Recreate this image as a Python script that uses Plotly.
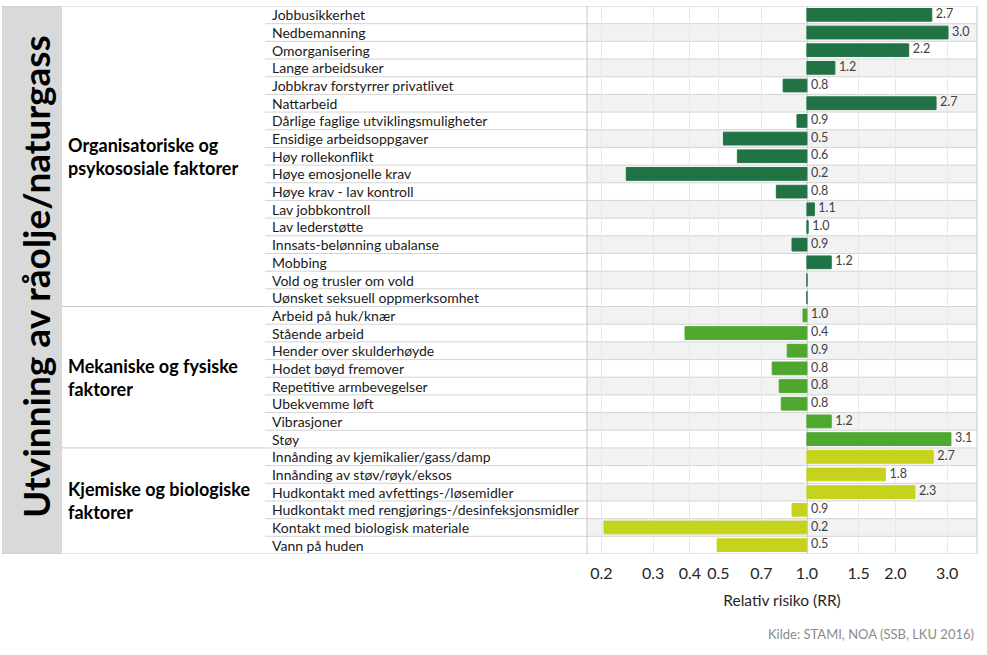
import math
import plotly.graph_objects as go

# ---------------- data ----------------
title_text = "Utvinning av råolje/naturgass"
groups = ["Organisatoriske og<br>psykososiale faktorer",
          "Mekaniske og fysiske<br>faktorer",
          "Kjemiske og biologiske<br>faktorer"]
group_sizes = [17, 8, 6]
group_colors = ["#217346", "#4ea72e", "#c6d31c"]

categories = [
    "Jobbusikkerhet", "Nedbemanning", "Omorganisering", "Lange arbeidsuker",
    "Jobbkrav forstyrrer privatlivet", "Nattarbeid",
    "Dårlige faglige utviklingsmuligheter", "Ensidige arbeidsoppgaver",
    "Høy rollekonflikt", "Høye emosjonelle krav", "Høye krav - lav kontroll",
    "Lav jobbkontroll", "Lav lederstøtte", "Innsats-belønning ubalanse",
    "Mobbing", "Vold og trusler om vold", "Uønsket seksuell oppmerksomhet",
    "Arbeid på huk/knær", "Stående arbeid", "Hender over skulderhøyde",
    "Hodet bøyd fremover", "Repetitive armbevegelser", "Ubekvemme løft",
    "Vibrasjoner", "Støy",
    "Innånding av kjemikalier/gass/damp", "Innånding av støv/røyk/eksos",
    "Hudkontakt med avfettings-/løsemidler",
    "Hudkontakt med rengjørings-/desinfeksjonsmidler",
    "Kontakt med biologisk materiale", "Vann på huden",
]
rr_values = [
    2.66, 3.02, 2.22, 1.245, 0.83, 2.75, 0.925, 0.52, 0.58, 0.243, 0.787,
    1.06, 1.01, 0.89, 1.21, 1.0, 1.0,
    0.97, 0.385, 0.857, 0.762, 0.805, 0.818, 1.21, 3.09,
    2.69, 1.85, 2.33, 0.89, 0.204, 0.495,
]
rr_labels = [
    "2.7", "3.0", "2.2", "1.2", "0.8", "2.7", "0.9", "0.5", "0.6", "0.2", "0.8",
    "1.1", "1.0", "0.9", "1.2", "", "",
    "1.0", "0.4", "0.9", "0.8", "0.8", "0.8", "1.2", "3.1",
    "2.7", "1.8", "2.3", "0.9", "0.2", "0.5",
]
tick_vals = [0.2, 0.3, 0.4, 0.5, 0.7, 1.0, 1.5, 2.0, 3.0]
tick_text = ["0.2", "0.3", "0.4", "0.5", "0.7", "1.0", "1.5", "2.0", "3.0"]
x_min, x_max = 0.1786, 3.79
ref_value = 1.0
source_text = "Kilde: STAMI, NOA (SSB, LKU 2016)"

# ---------------- layout geometry ----------------
W, H = 987, 655
PL, PR, PT, PB = 587, 977, 6, 554   # plot area in window pixels
n = len(categories)
idx = list(range(n))

def px(x):
    return x / W

def py(y):
    return 1 - y / H

bar_colors = []
for size, col in zip(group_sizes, group_colors):
    bar_colors += [col] * size

FONT = "Lato, Open Sans, sans-serif"
label_gap = 10 ** (4 / 294)   # ~4 px gap on the log scale
lo, hi = math.log10(x_min), math.log10(x_max)
ref_frac = (math.log10(ref_value) - lo) / (hi - lo)

fig = go.Figure()
fig.add_trace(go.Bar(
    y=idx, x=[v - ref_value for v in rr_values], base=[ref_value] * n,
    orientation="h", width=0.72,
    marker=dict(color=bar_colors, line=dict(color=bar_colors, width=1)),
    hoverinfo="skip", showlegend=False,
))
fig.add_trace(go.Scatter(
    y=idx, x=[max(v, ref_value) * label_gap for v in rr_values], mode="text",
    text=rr_labels, textposition="middle right",
    textfont=dict(family=FONT, size=12.5, color="#404040"),
    hoverinfo="skip", showlegend=False,
))

shapes = []
shapes.append(dict(type="rect", xref="paper", yref="y", x0=px(2), x1=px(62),
                   y0=-0.5, y1=n - 0.5, fillcolor="#d9d9d9", line_width=0, layer="below"))
for i in idx:
    if i % 2 == 1:
        shapes.append(dict(type="rect", xref="x domain", yref="y", x0=0, x1=1,
                           y0=i - 0.5, y1=i + 0.5, fillcolor="#f2f2f2",
                           line_width=0, layer="below"))
for i in range(1, n):
    shapes.append(dict(type="line", xref="paper", yref="y", x0=px(265), x1=px(PR),
                       y0=i - 0.5, y1=i - 0.5, line=dict(color="#d4d4d4", width=1),
                       layer="below"))
acc = 0
for size in group_sizes[:-1]:
    acc += size
    shapes.append(dict(type="line", xref="paper", yref="y", x0=px(62), x1=px(265),
                       y0=acc - 0.5, y1=acc - 0.5, line=dict(color="#c8c8c8", width=1),
                       layer="below"))
for yb in (-0.5, n - 0.5):
    shapes.append(dict(type="line", xref="paper", yref="y", x0=px(2), x1=px(PR),
                       y0=yb, y1=yb, line=dict(color="#c8c8c8", width=1), layer="below"))
for xb in (0, 1):
    shapes.append(dict(type="line", xref="x domain", yref="y", x0=xb, x1=xb,
                       y0=-0.5, y1=n - 0.5, line=dict(color="#c8c8c8", width=1),
                       layer="below"))
# reference line at RR = 1
shapes.append(dict(type="line", xref="x domain", yref="y", x0=ref_frac, x1=ref_frac,
                   y0=-0.5, y1=n - 0.5, line=dict(color="#a6a6a6", width=1),
                   layer="below"))

annotations = []
for i, c in enumerate(categories):
    annotations.append(dict(x=px(270), xref="paper", y=i, yref="y", text=c,
                            xanchor="left", yanchor="middle", showarrow=False,
                            font=dict(family=FONT, size=14, color="#1a1a1a")))
start = 0
for g, size in zip(groups, group_sizes):
    center = start + (size - 1) / 2
    annotations.append(dict(x=px(66), xref="paper", y=center, yref="y", text=g,
                            xanchor="left", yanchor="middle", align="left",
                            showarrow=False,
                            font=dict(family=FONT, size=18, color="#000000", weight="bold")))
    start += size
annotations.append(dict(x=px(35), xref="paper", y=py(277), yref="paper",
                        text=title_text, textangle=-90, showarrow=False,
                        xanchor="center", yanchor="middle",
                        font=dict(family=FONT, size=37, color="#000000", weight="bold")))
annotations.append(dict(x=px(976), xref="paper", y=py(634), yref="paper",
                        text=source_text, xanchor="right", yanchor="middle",
                        showarrow=False, font=dict(family=FONT, size=13, color="#8c8c8c")))

fig.update_layout(
    width=W, height=H,
    margin=dict(l=0, r=0, t=0, b=0),
    paper_bgcolor="white", plot_bgcolor="rgba(0,0,0,0)",
    shapes=shapes, annotations=annotations,
    xaxis=dict(type="log", range=[lo, hi],
               domain=[px(PL), px(PR)],
               tickvals=tick_vals, ticktext=tick_text,
               showgrid=True, gridcolor="#e8e8e8", gridwidth=1,
               showline=False, zeroline=False, ticks="",
               ticklabelstandoff=8,
               tickfont=dict(family=FONT, size=16, color="#262626"),
               title=dict(text="Relativ risiko (RR)", standoff=14,
                          font=dict(family=FONT, size=15.5, color="#262626"))),
    yaxis=dict(range=[n - 0.5, -0.5], domain=[py(PB), py(PT)],
               showticklabels=False, showgrid=False, zeroline=False, ticks=""),
)

fig.write_html("out.html",
               config={"displayModeBar": False},
               post_script="document.body.style.margin='0';"
                           "document.body.style.overflow='hidden';")
